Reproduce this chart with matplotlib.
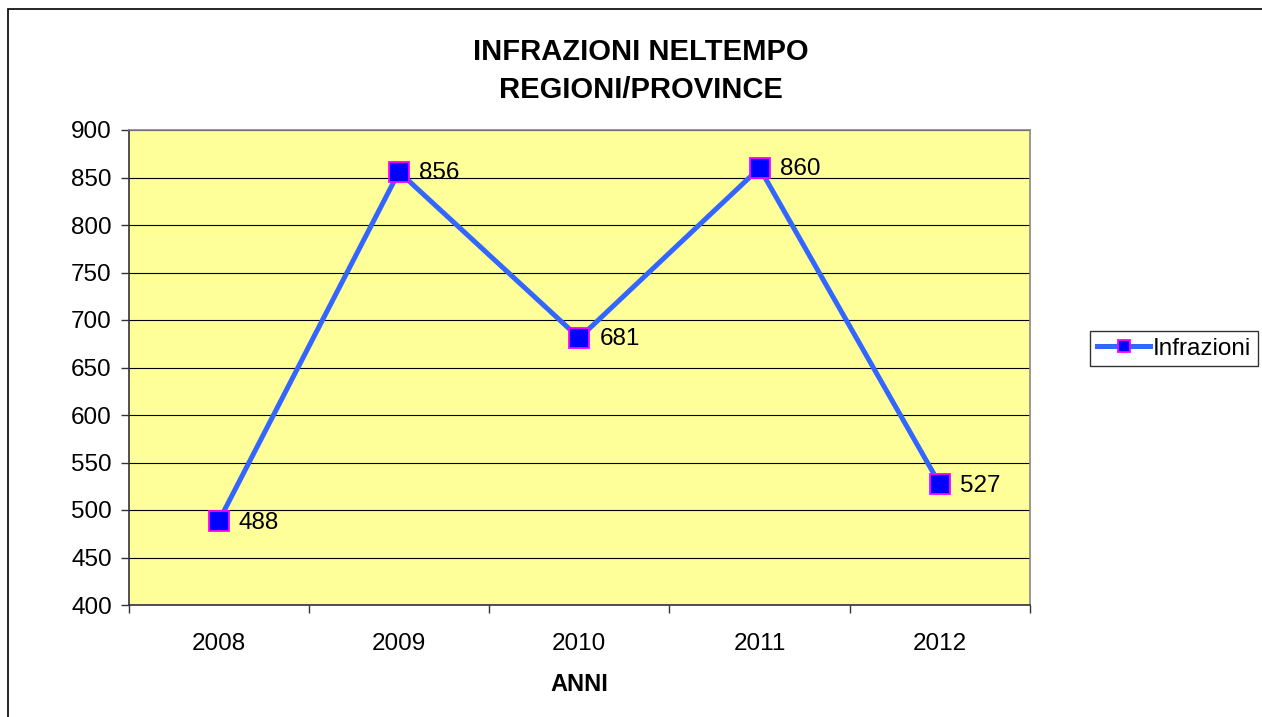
import matplotlib
matplotlib.use("Agg")
import matplotlib.pyplot as plt
from matplotlib.patches import Rectangle

years = ["2008", "2009", "2010", "2011", "2012"]
infrazioni = [488, 856, 681, 860, 527]
yticks = list(range(400, 901, 50))

plt.rcParams['font.family'] = ['Liberation Sans', 'DejaVu Sans']

fig = plt.figure(figsize=(12.62, 7.17), dpi=100)
fig.patches.append(Rectangle((8/1262, -0.01), 1.2, (717-9)/717 + 0.01, transform=fig.transFigure,
                             fill=False, edgecolor='black', linewidth=1.2))

ax = fig.add_axes([128.5/1262, 1-605/717, (1030-128.5)/1262, (605-130)/717])
ax.set_facecolor('#FFFF99')
x = list(range(len(years)))
ax.plot(x, infrazioni, color='#3366FF', linewidth=3.6, marker='s', markersize=14.5,
        markerfacecolor='#0000FF', markeredgecolor='#FF00FF', markeredgewidth=1.3,
        label='Infrazioni', zorder=3)
for xi, v in zip(x, infrazioni):
    ax.annotate(str(v), (xi, v), xytext=(14.5, -1), textcoords='offset points',
                va='center', ha='left', fontsize=17.5)

ax.set_ylim(400, 900)
ax.set_xlim(-0.5, len(years) - 0.5)
ax.set_yticks(yticks)
ax.yaxis.grid(True, color='black', linewidth=0.8)
ax.set_axisbelow(True)
ax.set_xticks(x)
ax.set_xticklabels(years, fontsize=17.5)
ax.set_xticks([i - 0.5 for i in range(len(years) + 1)], minor=True)
ax.tick_params(axis='x', which='major', length=0, pad=20)
ax.tick_params(axis='x', which='minor', length=6, width=1, color='#333333')
ax.tick_params(axis='y', labelsize=17.5, length=6, width=1, color='#333333', pad=6)
for s in ['left', 'bottom']:
    ax.spines[s].set_color('#333333')
    ax.spines[s].set_linewidth(1.2)
for s in ['right', 'top']:
    ax.spines[s].set_color('#888888')
    ax.spines[s].set_linewidth(1.2)

ax.set_xlabel('ANNI', fontsize=17, fontweight='bold', labelpad=13)
fig.text(641/1262, 1-71/717, 'INFRAZIONI NELTEMPO\nREGIONI/PROVINCE', ha='center', va='center',
         fontsize=21, fontweight='bold', linespacing=1.45)

leg = fig.legend(loc='center left', bbox_to_anchor=(1090/1262, 1-348.5/717), fontsize=17.5,
                 frameon=True, fancybox=False, edgecolor='black', handlelength=2.2,
                 handletextpad=0.1, borderpad=0.28, borderaxespad=0, markerscale=0.6)
leg.get_frame().set_linewidth(1.0)

fig.savefig('out.png', dpi=100)
